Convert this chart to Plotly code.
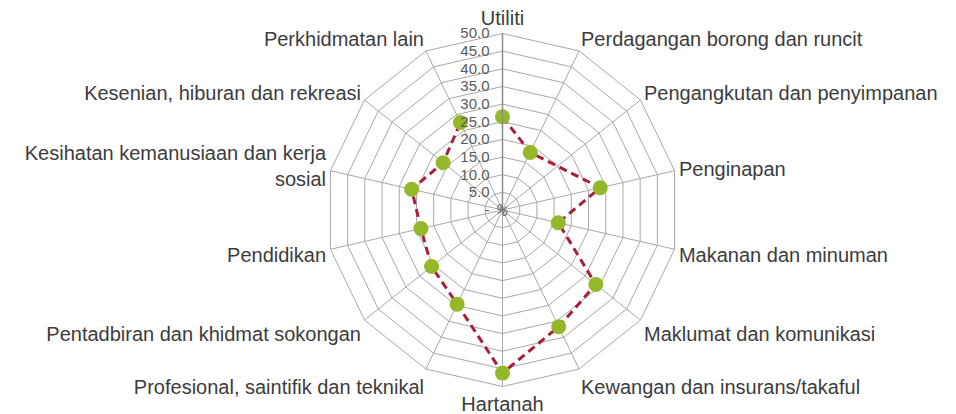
import plotly.graph_objects as go

categories = [
    "Utiliti",
    "Perdagangan borong dan runcit",
    "Pengangkutan dan penyimpanan",
    "Penginapan",
    "Makanan dan minuman",
    "Maklumat dan komunikasi",
    "Kewangan dan insurans/takaful",
    "Hartanah",
    "Profesional, saintifik dan teknikal",
    "Pentadbiran dan khidmat sokongan",
    "Pendidikan",
    "Kesihatan kemanusiaan dan kerja<br>sosial",
    "Kesenian, hiburan dan rekreasi",
    "Perkhidmatan lain",
]
values = [26.4, 18.1, None, 28.4, 16.2, 33.8, 36.7, 46.2, 29.6, 25.7, 23.7, 26.4, 21.5, 27.5]

tick_vals = [0, 5, 10, 15, 20, 25, 30, 35, 40, 45, 50]
tick_text = ["-", "5.0", "10.0", "15.0", "20.0", "25.0", "30.0", "35.0", "40.0", "45.0", "50.0"]

W, H = 956, 414
cx, cy, R = 502.5, 210, 176.5
dom_x = [(cx - R) / W, (cx + R) / W]
dom_y = [1 - (cy + R) / H, 1 - (cy - R) / H]

fig = go.Figure()
fig.add_trace(go.Scatterpolar(
    r=values,
    theta=categories,
    mode="lines+markers",
    connectgaps=True,
    line=dict(color="#A91F38", width=3, dash="8px,5px"),
    marker=dict(color="#95B82B", size=15, line=dict(width=0)),
    showlegend=False,
))

grid = "#A8A8A8"
fig.update_layout(
    width=W, height=H,
    margin=dict(l=0, r=0, t=0, b=0),
    paper_bgcolor="white",
    font=dict(family="Liberation Sans, Arial, sans-serif", color="#3C3C3C"),
    polar=dict(
        domain=dict(x=dom_x, y=dom_y),
        bgcolor="white",
        gridshape="linear",
        angularaxis=dict(
            type="category",
            categoryorder="array",
            categoryarray=categories,
            rotation=90,
            direction="clockwise",
            showline=True,
            linecolor=grid,
            linewidth=1,
            gridcolor=grid,
            gridwidth=1,
            ticks="",
            tickfont=dict(size=20, color="#3C3C3C"),
        ),
        radialaxis=dict(
            range=[0, 50],
            angle=90,
            tickangle=90,
            side="counterclockwise",
            tickvals=tick_vals,
            ticktext=tick_text,
            showline=True,
            linecolor="#8C8C8C",
            linewidth=1.5,
            gridcolor=grid,
            gridwidth=1,
            ticks="outside",
            ticklen=7,
            tickcolor="rgba(0,0,0,0)",
            tickfont=dict(size=15, color="#5A5A5A"),
        ),
    ),
    annotations=[dict(
        x=(dom_x[0] + dom_x[1]) / 2, y=(dom_y[0] + dom_y[1]) / 2,
        xref="paper", yref="paper", text="%", showarrow=False,
        textangle=20, font=dict(size=14, color="#5A5A5A"),
    )],
)

fig.write_html("out.html", config={"displayModeBar": False},
               post_script="document.body.style.margin='0';")
